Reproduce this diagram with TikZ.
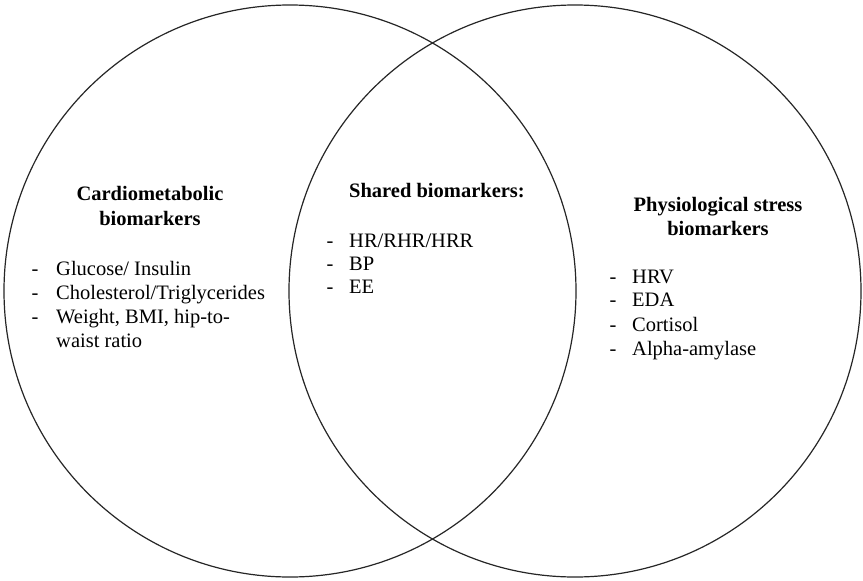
\documentclass[tikz,border=0pt]{standalone}
\usepackage{fontspec}
\setmainfont{LiberationSerif}[Extension=.ttf,UprightFont=*-Regular,BoldFont=*-Bold,ItalicFont=*-Italic,BoldItalicFont=*-BoldItalic]
\begin{document}
\begin{tikzpicture}[x=1pt,y=-1pt,
  ring/.style={draw=black!85,line width=1.2pt},
  txt/.style={inner sep=0pt,font=\rmfamily\fontsize{20.5}{23.5}\selectfont},
  ttl/.style={txt,font=\rmfamily\fontsize{20.5}{23.5}\selectfont\bfseries,anchor=base},
  item/.style={txt,anchor=base west},
  dashmark/.style={txt,anchor=base}]
\useasboundingbox (0,0) rectangle (863,581);
\fill[white] (0,0) rectangle (863,581);
\path[ring] (290,291) circle[radius=286pt];
\path[ring] (575,291) circle[radius=286pt];
% left
\node[ttl] (lt1) at (150,200) {Cardiometabolic};
\node[ttl] (lt2) at (150,225) {biomarkers};
\node[dashmark] (ld1) at (35,275) {-};
\node[dashmark] (ld2) at (35,299) {-};
\node[dashmark] (ld3) at (35,323) {-};
\node[item] (li1) at (56,275) {Glucose/ Insulin};
\node[item] (li2) at (56,299) {Cholesterol/Triglycerides};
\node[item] (li3) at (56,323) {Weight, BMI, hip-to-};
\node[item] (li4) at (56,347) {waist ratio};
% center
\node[txt,font=\rmfamily\fontsize{20.5}{23.5}\selectfont\bfseries,anchor=base west] (ct) at (349,197) {Shared biomarkers:};
\node[dashmark] (cd1) at (330,247) {-};
\node[dashmark] (cd2) at (330,270) {-};
\node[dashmark] (cd3) at (330,293) {-};
\node[item] (ci1) at (349,247) {HR/RHR/HRR};
\node[item] (ci2) at (349,270) {BP};
\node[item] (ci3) at (349,293) {EE};
% right
\node[ttl] (rt1) at (718,211) {Physiological stress};
\node[ttl] (rt2) at (718,235) {biomarkers};
\node[dashmark] (rd1) at (613,283) {-};
\node[dashmark] (rd2) at (613,306) {-};
\node[dashmark] (rd3) at (613,331) {-};
\node[dashmark] (rd4) at (613,355) {-};
\node[item] (ri1) at (632,283) {HRV};
\node[item] (ri2) at (632,306) {EDA};
\node[item] (ri3) at (632,331) {Cortisol};
\node[item] (ri4) at (632,355) {Alpha-amylase};
\end{tikzpicture}
\end{document}
